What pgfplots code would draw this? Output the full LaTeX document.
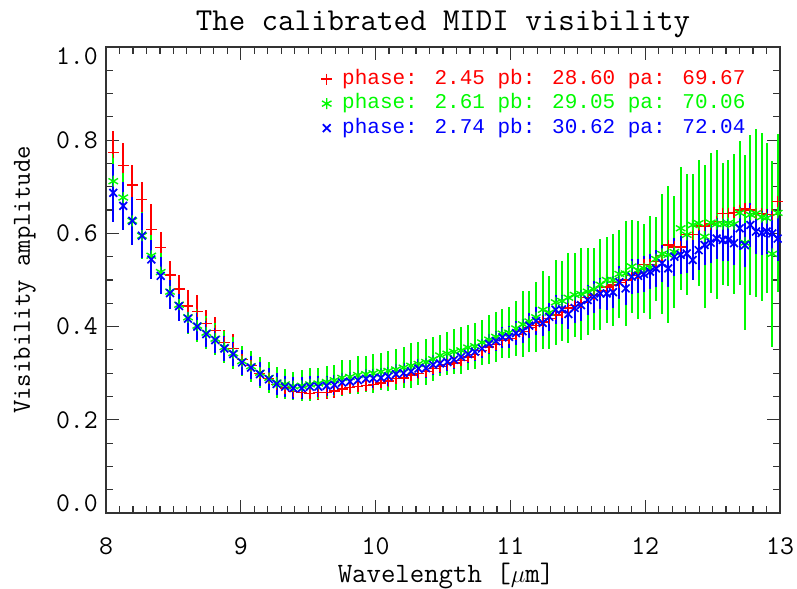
\documentclass[border=0pt]{standalone}
\usepackage{fontspec}
\usepackage{pgfplots}
\usepackage{pgfplotstable}
\pgfplotsset{compat=1.18}
\newfontfamily\legfont{Liberation Mono}
\definecolor{ired}{RGB}{255,0,0}
\definecolor{igreen}{RGB}{0,250,0}
\definecolor{iblue}{RGB}{0,0,255}

\pgfplotstableread{
x r re g ge b be
7.985 0.829 0.050 0.747 0.055 0.729 0.060
8.054 0.774 0.045 0.712 0.058 0.687 0.062
8.128 0.745 0.050 0.677 0.052 0.659 0.051
8.195 0.704 0.042 0.627 0.052 0.627 0.052
8.267 0.672 0.039 0.595 0.050 0.595 0.048
8.336 0.609 0.055 0.552 0.045 0.544 0.041
8.406 0.569 0.034 0.517 0.042 0.509 0.040
8.475 0.511 0.030 0.475 0.038 0.472 0.034
8.542 0.481 0.030 0.447 0.036 0.444 0.032
8.608 0.444 0.034 0.420 0.035 0.417 0.030
8.677 0.432 0.036 0.402 0.035 0.400 0.029
8.744 0.406 0.029 0.387 0.035 0.384 0.028
8.811 0.392 0.028 0.374 0.034 0.371 0.027
8.878 0.366 0.026 0.356 0.034 0.353 0.027
8.944 0.353 0.031 0.343 0.034 0.341 0.026
9.009 0.330 0.022 0.326 0.033 0.323 0.026
9.076 0.316 0.020 0.315 0.033 0.312 0.025
9.142 0.300 0.018 0.301 0.033 0.298 0.025
9.209 0.288 0.017 0.290 0.033 0.287 0.024
9.266 0.276 0.016 0.280 0.033 0.277 0.024
9.328 0.268 0.015 0.276 0.032 0.271 0.023
9.389 0.260 0.015 0.272 0.030 0.268 0.023
9.452 0.258 0.015 0.273 0.033 0.268 0.023
9.513 0.257 0.015 0.276 0.036 0.271 0.022
9.575 0.258 0.015 0.278 0.034 0.271 0.022
9.637 0.259 0.015 0.281 0.035 0.273 0.022
9.695 0.262 0.015 0.285 0.033 0.275 0.021
9.751 0.266 0.015 0.290 0.038 0.280 0.021
9.810 0.270 0.015 0.292 0.036 0.282 0.021
9.869 0.272 0.015 0.296 0.040 0.285 0.021
9.929 0.274 0.015 0.298 0.038 0.288 0.021
9.983 0.276 0.015 0.300 0.042 0.289 0.021
10.040 0.279 0.015 0.303 0.040 0.290 0.021
10.094 0.283 0.015 0.305 0.043 0.293 0.021
10.151 0.288 0.015 0.308 0.045 0.298 0.021
10.207 0.290 0.015 0.312 0.044 0.300 0.021
10.263 0.296 0.015 0.316 0.048 0.304 0.021
10.318 0.300 0.015 0.320 0.046 0.310 0.021
10.374 0.303 0.015 0.324 0.049 0.311 0.021
10.426 0.310 0.015 0.330 0.047 0.318 0.021
10.478 0.314 0.015 0.338 0.045 0.321 0.020
10.532 0.318 0.015 0.342 0.046 0.324 0.020
10.582 0.322 0.015 0.346 0.048 0.329 0.020
10.634 0.328 0.015 0.349 0.050 0.335 0.020
10.686 0.335 0.015 0.355 0.048 0.341 0.020
10.737 0.340 0.015 0.358 0.050 0.346 0.019
10.789 0.348 0.016 0.366 0.049 0.353 0.020
10.841 0.356 0.016 0.372 0.052 0.363 0.021
10.893 0.362 0.016 0.378 0.054 0.369 0.022
10.941 0.370 0.017 0.385 0.052 0.377 0.023
10.990 0.374 0.017 0.387 0.055 0.378 0.024
11.042 0.383 0.018 0.396 0.060 0.386 0.025
11.091 0.389 0.018 0.405 0.071 0.390 0.026
11.140 0.398 0.019 0.411 0.066 0.402 0.027
11.190 0.403 0.020 0.420 0.075 0.412 0.029
11.240 0.410 0.020 0.436 0.084 0.408 0.029
11.289 0.418 0.021 0.430 0.078 0.421 0.030
11.336 0.425 0.022 0.452 0.091 0.436 0.031
11.383 0.430 0.022 0.455 0.085 0.437 0.031
11.430 0.440 0.023 0.462 0.097 0.427 0.032
11.477 0.446 0.024 0.468 0.090 0.440 0.032
11.524 0.452 0.024 0.470 0.098 0.446 0.033
11.573 0.462 0.025 0.475 0.094 0.457 0.033
11.620 0.468 0.026 0.480 0.088 0.464 0.034
11.667 0.478 0.026 0.490 0.097 0.471 0.034
11.714 0.485 0.027 0.500 0.092 0.471 0.035
11.761 0.489 0.028 0.500 0.098 0.474 0.035
11.808 0.494 0.028 0.513 0.095 0.495 0.036
11.855 0.500 0.029 0.514 0.113 0.482 0.036
11.900 0.510 0.030 0.529 0.100 0.507 0.037
11.947 0.515 0.030 0.521 0.105 0.509 0.037
11.991 0.534 0.031 0.525 0.095 0.513 0.038
12.036 0.534 0.031 0.527 0.110 0.518 0.038
12.080 0.540 0.032 0.545 0.090 0.525 0.039
12.125 0.552 0.032 0.556 0.129 0.536 0.040
12.171 0.575 0.033 0.554 0.147 0.525 0.040
12.216 0.571 0.033 0.560 0.120 0.550 0.041
12.263 0.571 0.034 0.611 0.132 0.554 0.041
12.308 0.597 0.034 0.597 0.130 0.557 0.042
12.352 0.597 0.035 0.618 0.110 0.543 0.042
12.397 0.616 0.035 0.622 0.135 0.564 0.043
12.441 0.616 0.036 0.593 0.154 0.575 0.043
12.486 0.620 0.036 0.623 0.150 0.580 0.044
12.530 0.625 0.037 0.620 0.160 0.589 0.044
12.575 0.643 0.037 0.620 0.130 0.586 0.045
12.616 0.643 0.038 0.622 0.135 0.586 0.045
12.659 0.645 0.038 0.620 0.150 0.579 0.046
12.701 0.650 0.039 0.644 0.155 0.611 0.046
12.740 0.654 0.039 0.580 0.188 0.575 0.047
12.780 0.650 0.040 0.640 0.172 0.618 0.047
12.822 0.643 0.040 0.643 0.180 0.604 0.048
12.864 0.642 0.041 0.635 0.180 0.601 0.048
12.901 0.640 0.041 0.633 0.160 0.604 0.048
12.943 0.640 0.042 0.556 0.200 0.600 0.049
12.983 0.668 0.042 0.644 0.170 0.589 0.049
13.020 0.660 0.043 0.640 0.180 0.600 0.050
}\data

\begin{document}
\begin{tikzpicture}
\useasboundingbox (-106bp,-76bp) rectangle (691bp,513bp);
\begin{axis}[
  at={(0,0)}, anchor=south west,
  scale only axis, width=674bp, height=466bp,
  xmin=8, xmax=13, ymin=0, ymax=1,
  xtick={8,9,10,11,12,13}, xticklabels={8,9,10,11,12,13},
  ytick={0,0.2,0.4,0.6,0.8,1.0},
  yticklabels={\raisebox{1.5bp}[0pt][0pt]{0.0},0.2,0.4,0.6,0.8,\raisebox{-18bp}[0pt][0pt]{1.0}},
  minor x tick num=9, minor y tick num=3,
  tick align=inside,
  major tick length=13bp, minor tick length=7bp,
  axis line style={line width=1.4bp, black!80},
  every tick/.style={line width=1.2bp, black!80},
  /pgf/number format/assume math mode=true,
  tick label style={font=\ttfamily\fontsize{27bp}{30bp}\selectfont},
  xticklabel style={anchor=base, yshift=-41bp, inner sep=0pt},
  yticklabel style={anchor=east, xshift=-8bp, inner sep=0pt},
  legend style={at={(0.958,0.962)}, anchor=north east, draw=none, fill=none,
    font=\legfont\fontsize{21bp}{24bp}\selectfont,
    nodes={inner xsep=3bp, inner ysep=2.25bp, text height=15bp, text depth=5bp}},
  legend cell align=left,
]
\addplot[only marks, ired, mark=+, mark size=5.5bp, mark options={line width=1.3bp},
  error bars/.cd, y dir=both, y explicit, error mark=none,
  error bar style={line width=2bp, ired}]
  table[x=x, y=r, y error=re] {\data};
\addlegendentry{\hspace{7bp}\textcolor{ired}{phase: 2.45 pb: 28.60 pa: 69.67}}
\addplot[only marks, igreen, mark=asterisk, mark size=5.5bp, mark options={line width=1.4bp},
  error bars/.cd, y dir=both, y explicit, error mark=none,
  error bar style={line width=2bp, igreen}]
  table[x=x, y=g, y error=ge] {\data};
\addlegendentry{\hspace{7bp}\textcolor{igreen}{phase: 2.61 pb: 29.05 pa: 70.06}}
\addplot[only marks, iblue, mark=x, mark size=5.5bp, mark options={line width=1.7bp},
  error bars/.cd, y dir=both, y explicit, error mark=none,
  error bar style={line width=2bp, iblue}]
  table[x=x, y=b, y error=be] {\data};
\addlegendentry{\hspace{7bp}\textcolor{iblue}{phase: 2.74 pb: 30.62 pa: 72.04}}
\end{axis}
\node[font=\ttfamily\fontsize{32bp}{36bp}\selectfont, anchor=base] at (337bp,482bp) {The calibrated MIDI visibility};
\node[font=\ttfamily\fontsize{28bp}{32bp}\selectfont, anchor=base] at (340bp,-69bp) {Wavelength [$\mu$m]};
\node[font=\ttfamily\fontsize{26bp}{30bp}\selectfont, anchor=base, rotate=90] at (-76bp,233bp) {Visibility amplitude};
\end{tikzpicture}
\end{document}
